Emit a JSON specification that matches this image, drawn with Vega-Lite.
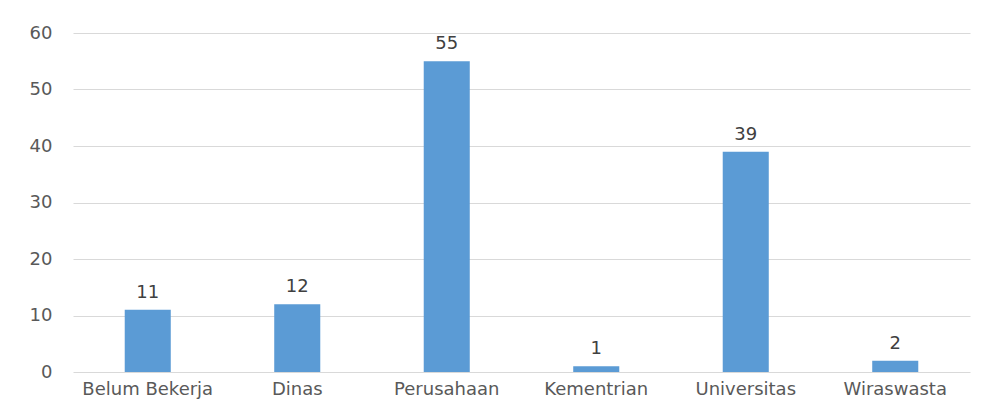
{
  "$schema": "https://vega.github.io/schema/vega-lite/v6.json",
  "autosize": {"type": "none"},
  "padding": {"left": 73, "top": 33, "right": 17, "bottom": 36},
  "width": 897,
  "height": 339,
  "background": "white",
  "config": {
    "view": {"stroke": null},
    "font": "DejaVu Sans"
  },
  "data": {
    "values": [
      {"kategori": "Belum Bekerja", "jumlah": 11},
      {"kategori": "Dinas", "jumlah": 12},
      {"kategori": "Perusahaan", "jumlah": 55},
      {"kategori": "Kementrian", "jumlah": 1},
      {"kategori": "Universitas", "jumlah": 39},
      {"kategori": "Wiraswasta", "jumlah": 2}
    ]
  },
  "encoding": {
    "x": {
      "field": "kategori",
      "type": "nominal",
      "sort": null,
      "scale": {"paddingInner": 0.692, "paddingOuter": 0.346},
      "axis": {
        "title": null,
        "labelAngle": 0,
        "domain": false,
        "ticks": false,
        "labelFont": "DejaVu Sans",
        "labelFontSize": 18,
        "labelColor": "#595959",
        "labelPadding": 8
      }
    },
    "y": {
      "field": "jumlah",
      "type": "quantitative",
      "scale": {"domain": [0, 60], "nice": false},
      "axis": {
        "title": null,
        "values": [0, 10, 20, 30, 40, 50, 60],
        "domain": false,
        "ticks": false,
        "grid": true,
        "gridColor": "#d9d9d9",
        "gridWidth": 1,
        "labelFont": "DejaVu Sans",
        "labelFontSize": 18,
        "labelColor": "#595959",
        "labelPadding": 21
      }
    }
  },
  "layer": [
    {"mark": {"type": "bar", "color": "#5B9BD5"}},
    {
      "mark": {
        "type": "text",
        "baseline": "alphabetic",
        "dy": -12,
        "font": "DejaVu Sans",
        "fontSize": 18,
        "color": "#404040"
      },
      "encoding": {"text": {"field": "jumlah", "type": "quantitative"}}
    }
  ]
}
